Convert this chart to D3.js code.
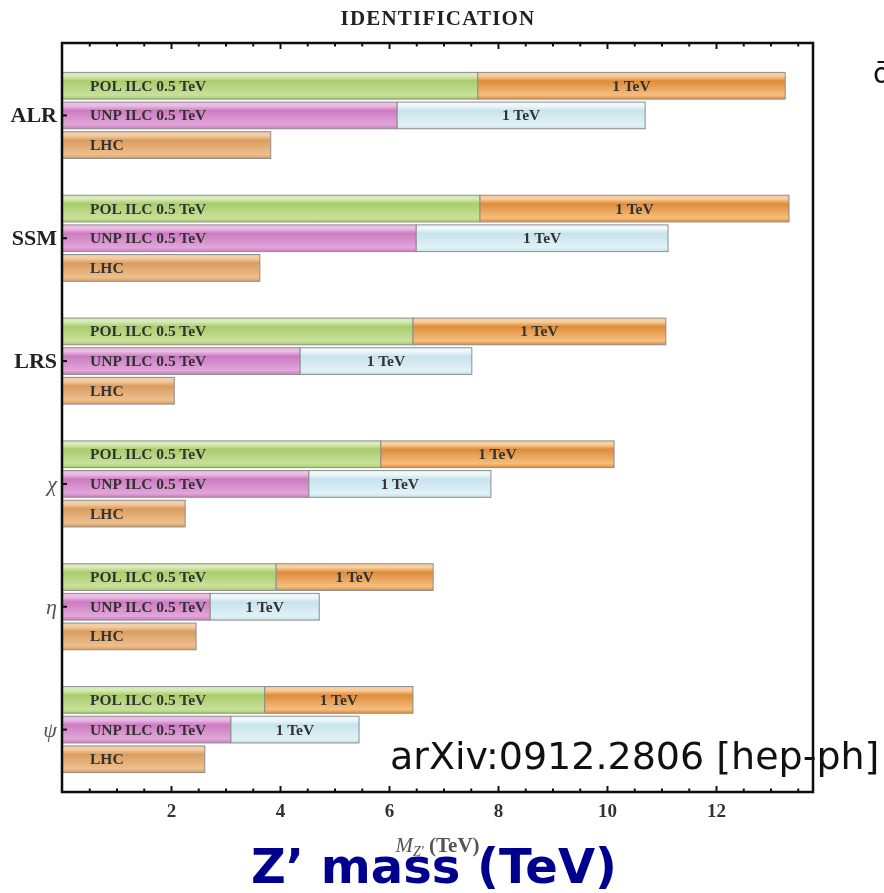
<!DOCTYPE html>
<html>
<head>
<meta charset="utf-8">
<script src="https://cdn.jsdelivr.net/npm/d3@7"></script>
<style>
  html, body { margin: 0; padding: 0; background: #fff; }
  svg { display: block; }
</style>
</head>
<body>
<svg id="chart" width="884" height="893"></svg>
<script>
// Z' models and reach (TeV) for each collider option
const models = ["ALR", "SSM", "LRS", "χ", "η", "ψ"];
const polIlc05 = [7.63, 7.67, 6.44, 5.85, 3.93, 3.72];
const polIlc1 = [13.27, 13.34, 11.08, 10.13, 6.81, 6.44];
const unpIlc05 = [6.15, 6.50, 4.37, 4.53, 2.72, 3.10];
const unpIlc1 = [10.70, 11.12, 7.52, 7.87, 4.72, 5.45];
const lhc = [3.83, 3.63, 2.06, 2.26, 2.46, 2.62];
const rows = ["POL", "UNP", "LHC"];
const majorTicks = [2, 4, 6, 8, 10, 12];
const minorTicks = [0.5, 1, 1.5, 2.5, 3, 3.5, 4.5, 5, 5.5, 6.5, 7, 7.5, 8.5, 9, 9.5, 10.5, 11, 11.5, 12.5, 13, 13.5];
const xMax = 13.78;

const svg = d3.select("#chart");
const frame = { left: 62, right: 813, top: 43, bottom: 792 };

const x = d3.scaleLinear().domain([0, xMax]).range([frame.left, frame.right]);
const yGroup = d3.scaleBand().domain(models).range([54, 791]).paddingInner(0);
const yRow = d3.scaleBand().domain(rows).range([-44.5, 44.5]).paddingInner(0.1).paddingOuter(0.05);

// glossy vertical gradients for the bar fills
const defs = svg.append("defs");
const palette = {
  green:   ["#d8eab8", "#a9cd6c", "#c8e19a"],
  magenta: ["#ebbde4", "#cc7bc1", "#e1a6d9"],
  orange:  ["#f8cf9c", "#de8c3a", "#f6be7e"],
  blue:    ["#eef8fb", "#c8e3ec", "#e1f1f7"],
  tan:     ["#f2cda6", "#da9d5e", "#eebf8e"]
};
Object.entries(palette).forEach(([name, c]) => {
  const g = defs.append("linearGradient").attr("id", "grad-" + name)
    .attr("x1", 0).attr("y1", 0).attr("x2", 0).attr("y2", 1);
  g.append("stop").attr("offset", "0%").attr("stop-color", c[0]);
  g.append("stop").attr("offset", "14%").attr("stop-color", c[0]);
  g.append("stop").attr("offset", "32%").attr("stop-color", c[1]);
  g.append("stop").attr("offset", "85%").attr("stop-color", c[2]);
  g.append("stop").attr("offset", "100%").attr("stop-color", c[1]);
});
defs.append("filter").attr("id", "soft")
  .append("feGaussianBlur").attr("stdDeviation", 0.6);

const chart = svg.append("g").attr("filter", "url(#soft)");

// segments: [model, row, start, end, fill, label, anchor]
const segments = [];
models.forEach((m, i) => {
  segments.push([m, "POL", 0, polIlc05[i], "green", "POL ILC 0.5 TeV", "start"]);
  segments.push([m, "POL", polIlc05[i], polIlc1[i], "orange", "1 TeV", "middle"]);
  segments.push([m, "UNP", 0, unpIlc05[i], "magenta", "UNP ILC 0.5 TeV", "start"]);
  segments.push([m, "UNP", unpIlc05[i], unpIlc1[i], "blue", "1 TeV", "middle"]);
  segments.push([m, "LHC", 0, lhc[i], "tan", "LHC", "start"]);
});

const rowY = d => yGroup(d[0]) + yGroup.bandwidth() / 2 + yRow(d[1]);

chart.selectAll("rect.bar").data(segments).enter().append("rect")
  .attr("class", "bar")
  .attr("x", d => x(d[2]))
  .attr("y", d => rowY(d))
  .attr("width", d => x(d[3]) - x(d[2]))
  .attr("height", yRow.bandwidth())
  .attr("fill", d => "url(#grad-" + d[4] + ")")
  .attr("stroke", "#8d8d8d")
  .attr("stroke-width", 1);

chart.selectAll("text.barlabel").data(segments).enter().append("text")
  .attr("class", "barlabel")
  .attr("x", d => d[6] === "start" ? x(d[2]) + 28 : (x(d[2]) + x(d[3])) / 2)
  .attr("y", d => rowY(d) + yRow.bandwidth() / 2 + 5)
  .attr("text-anchor", d => d[6])
  .attr("font-family", "Liberation Serif")
  .attr("font-weight", "bold")
  .attr("font-size", 15.5)
  .attr("fill", "#333")
  .text(d => d[5]);

// frame with inward ticks
const bottomMinor = d3.axisBottom(x).tickValues(minorTicks).tickSize(-3.5).tickFormat("");
const bottomMajor = d3.axisBottom(x).tickValues(majorTicks).tickSize(-6).tickPadding(12).tickFormat(d3.format("d"));
const topMinor = d3.axisTop(x).tickValues(minorTicks).tickSize(-3.5).tickFormat("");
const topMajor = d3.axisTop(x).tickValues(majorTicks).tickSize(-6).tickFormat("");

[[bottomMinor, frame.bottom], [bottomMajor, frame.bottom], [topMinor, frame.top], [topMajor, frame.top]]
  .forEach(([ax, yy]) => {
    const g = chart.append("g").attr("transform", `translate(0,${yy})`).call(ax);
    g.select(".domain").remove();
    g.selectAll(".tick line").attr("stroke", "#111").attr("stroke-width", 2);
    g.selectAll(".tick text")
      .attr("font-family", "Liberation Serif").attr("font-weight", "bold")
      .attr("font-size", 19).attr("fill", "#333");
  });

const left = d3.axisLeft(yGroup).tickSize(-5).tickPadding(5);
const gl = chart.append("g").attr("transform", `translate(${frame.left},0)`).call(left);
gl.select(".domain").remove();
gl.selectAll(".tick line").attr("stroke", "#111").attr("stroke-width", 2);
gl.selectAll(".tick text")
  .attr("font-family", "Liberation Serif")
  .attr("font-size", d => /^[A-Z]/.test(d) ? 22 : 22)
  .attr("font-weight", d => /^[A-Z]/.test(d) ? "bold" : "normal")
  .attr("font-style", d => /^[A-Z]/.test(d) ? "normal" : "italic")
  .attr("fill", d => /^[A-Z]/.test(d) ? "#222" : "#555");

chart.append("rect")
  .attr("x", frame.left).attr("y", frame.top)
  .attr("width", frame.right - frame.left).attr("height", frame.bottom - frame.top)
  .attr("fill", "none").attr("stroke", "#111").attr("stroke-width", 2.5);

// title and axis label
chart.append("text")
  .attr("x", 438).attr("y", 25)
  .attr("text-anchor", "middle")
  .attr("font-family", "Liberation Serif").attr("font-weight", "bold")
  .attr("font-size", 21).attr("letter-spacing", 1.2).attr("fill", "#222")
  .text("IDENTIFICATION");

const axisLabel = chart.append("text")
  .attr("x", (frame.left + frame.right) / 2).attr("y", 852)
  .attr("text-anchor", "middle")
  .attr("font-family", "Liberation Serif").attr("font-size", 21).attr("fill", "#555");
axisLabel.append("tspan").attr("font-style", "italic").text("M");
axisLabel.append("tspan").attr("font-style", "italic").attr("font-size", 14).attr("dy", 4).text("Z′");
axisLabel.append("tspan").attr("dy", -4).attr("font-weight", "bold").text(" (TeV)");

// annotations
svg.append("text")
  .attr("x", 390).attr("y", 769)
  .attr("font-family", "DejaVu Sans").attr("font-size", 38).attr("fill", "#111")
  .text("arXiv:0912.2806 [hep-ph]");

svg.append("text")
  .attr("x", 434).attr("y", 883)
  .attr("text-anchor", "middle")
  .attr("font-family", "DejaVu Sans").attr("font-weight", "bold")
  .attr("font-size", 48).attr("fill", "#00008f")
  .text("Z’ mass (TeV)");

svg.append("text")
  .attr("x", 873).attr("y", 83)
  .attr("font-family", "DejaVu Sans").attr("font-size", 28).attr("fill", "#111")
  .text("ō");
</script>
</body>
</html>
